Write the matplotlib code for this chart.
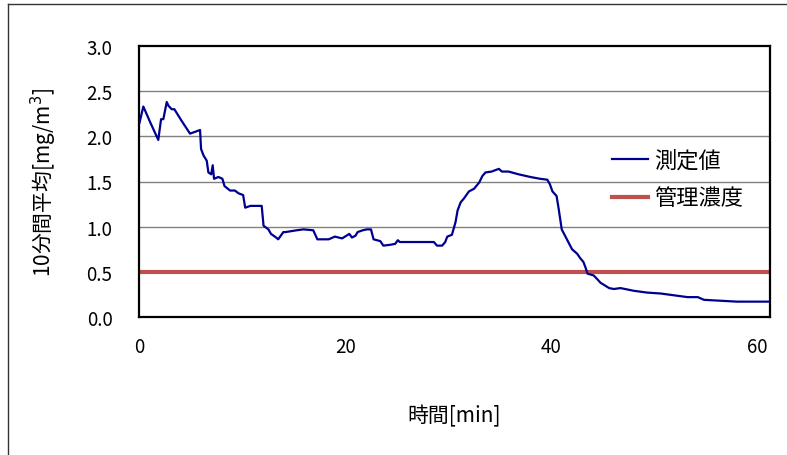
import matplotlib.pyplot as plt
from matplotlib.lines import Line2D

plt.rcParams['font.family'] = ['Noto Sans CJK JP', 'DejaVu Sans']

# 時間 [min] and 10-minute average [mg/m3]
t = [0.05, 0.42, 1.07, 1.87, 2.14, 2.36, 2.69, 2.85, 3.17, 3.43, 4.14, 4.95, 5.44, 5.92,
     6.02, 6.25, 6.57, 6.73, 7.0, 7.15, 7.28, 7.7, 8.09, 8.29, 8.83, 9.3, 9.64, 10.1, 10.3,
     10.8, 11.9, 12.08, 12.55, 12.8, 13.3, 13.5, 14.0, 14.2, 15.3, 15.95, 16.9, 17.3, 18.4,
     19.0, 19.7, 20.4, 20.65, 21.0, 21.2, 21.7, 22.1, 22.5, 22.75, 23.4, 23.7, 24.4, 24.85,
     25.1, 25.3, 26.3, 27.3, 28.6, 28.9, 29.4, 29.7, 29.9, 30.35, 30.7, 30.9, 31.2, 31.5,
     32.0, 32.5, 33.0, 33.3, 33.6, 34.2, 34.9, 35.2, 35.85, 36.8, 37.96, 38.9, 39.6, 39.85,
     40.1, 40.5, 40.7, 41.0, 41.5, 42.0, 42.5, 42.8, 43.1, 43.3, 43.5, 44.1, 44.6, 44.75,
     45.6, 46.05, 46.7, 48.0, 49.3, 50.6, 51.9, 53.2, 54.2, 54.8, 56.4, 58.0, 61.2]
conc = [2.15, 2.33, 2.16, 1.96, 2.19, 2.19, 2.38, 2.34, 2.30, 2.30, 2.17, 2.03, 2.05, 2.07,
        1.86, 1.79, 1.73, 1.60, 1.58, 1.68, 1.53, 1.55, 1.53, 1.45, 1.40, 1.40, 1.37, 1.35, 1.21,
        1.23, 1.23, 1.01, 0.97, 0.92, 0.88, 0.86, 0.94, 0.94, 0.96, 0.97, 0.96, 0.86, 0.86,
        0.89, 0.87, 0.92, 0.88, 0.90, 0.94, 0.96, 0.97, 0.97, 0.86, 0.84, 0.79, 0.80, 0.81,
        0.85, 0.83, 0.83, 0.83, 0.83, 0.79, 0.79, 0.83, 0.89, 0.91, 1.05, 1.18, 1.27, 1.31,
        1.39, 1.42, 1.49, 1.56, 1.60, 1.61, 1.64, 1.61, 1.61, 1.58, 1.55, 1.53, 1.52, 1.47,
        1.39, 1.34, 1.20, 0.97, 0.86, 0.75, 0.70, 0.65, 0.61, 0.55, 0.48, 0.46, 0.40, 0.38,
        0.32, 0.31, 0.32, 0.29, 0.27, 0.26, 0.24, 0.22, 0.22, 0.19, 0.18, 0.17, 0.17]
limit = 0.5
x_max = 61.2
x_ticks = [0, 20, 40, 60]
y_ticks = [0.0, 0.5, 1.0, 1.5, 2.0, 2.5, 3.0]

fig = plt.figure(figsize=(7.87, 4.56), dpi=100)
ax = fig.add_axes([139 / 787, 1 - 318 / 456, 631 / 787, 271 / 456])

# outer chart frame (only left and top visible)
fig.add_artist(Line2D([8 / 787, 8 / 787], [0, 1 - 5 / 456], color='#333333', lw=1))
fig.add_artist(Line2D([8 / 787, 786 / 787], [1 - 5 / 456, 1 - 5 / 456], color='#333333', lw=1))

for y in y_ticks[1:-1]:
    ax.axhline(y, color='#808080', lw=1, zorder=1)

ax.plot(t, conc, color='#000090', lw=1.6, label='測定値', zorder=3)
ax.plot([0, x_max], [limit, limit], color='#C0504D', lw=3, label='管理濃度', zorder=2)

ax.set_xlim(0, x_max)
ax.set_ylim(0, 3.0)
ax.set_xticks(x_ticks)
ax.set_yticks(y_ticks)
ax.set_yticklabels(['%.1f' % v for v in y_ticks])
ax.tick_params(length=0, labelsize=13.5)
ax.tick_params(axis='y', pad=19)
ax.tick_params(axis='x', pad=14)
for s in ax.spines.values():
    s.set_linewidth(1.6)
    s.set_color('black')

ax.set_ylabel('10分間平均[mg/m$^3$]', fontsize=15, labelpad=20)
ax.set_xlabel('時間[min]', fontsize=15, labelpad=34)

ax.legend(loc='center left', bbox_to_anchor=(0.75, 0.509), frameon=False, fontsize=16,
          handlelength=1.6, handletextpad=0.3, labelspacing=0.65, borderpad=0, borderaxespad=0)

fig.savefig('out.png', dpi=100)
